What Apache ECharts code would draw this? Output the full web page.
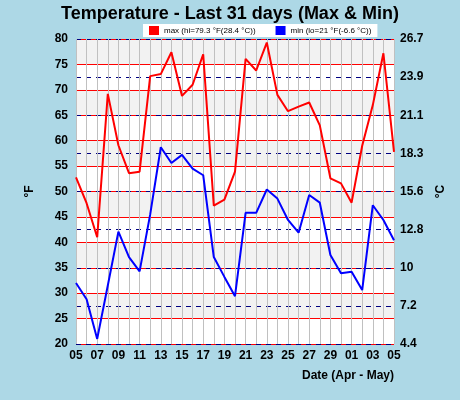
<!DOCTYPE html>
<html><head><meta charset="utf-8">
<script src="https://cdn.jsdelivr.net/npm/echarts@6/dist/echarts.min.js"></script>
<style>html,body{margin:0;padding:0;background:#ADD8E6;}#c{width:460px;height:400px;}</style>
</head><body><div id="c"></div>
<script>
const days = ['05','06','07','08','09','10','11','12','13','14','15','16','17','18','19','20','21','22','23','24','25','26','27','28','29','30','01','02','03','04','05'];
const maxF = [52.8,47.7,41,69.2,59.1,53.6,53.9,72.7,73.1,77.4,68.8,71,77,47.2,48.4,53.9,76.1,73.8,79.3,69,65.8,66.7,67.5,63,52.6,51.6,47.8,59,67,77.2,57.8];
const minF = [32,28.8,21,31.5,42.1,37.1,34.3,45.5,58.7,55.6,57.2,54.5,53.2,37.1,33.2,29.4,45.8,45.8,50.4,48.6,44.4,41.9,49.3,47.8,37.5,33.9,34.2,30.6,47.3,44.4,40.4];
const cLabels = ['4.4','7.2','10','12.8','15.6','18.3','21.1','23.9','26.7'];
const ff = 'Liberation Sans';
const chart = echarts.init(document.getElementById('c'));
chart.setOption({
  backgroundColor:'#ADD8E6',
  animation:false,
  title:{text:'Temperature - Last 31 days (Max & Min)',left:'center',top:0,textStyle:{fontFamily:ff,fontSize:18,fontWeight:'bold',color:'#000'}},
  legend:{top:24,left:143,itemWidth:10,itemHeight:9,itemGap:20,backgroundColor:'#fff',padding:[2,6,2,6],
    textStyle:{fontFamily:ff,fontSize:8,color:'#000'},
    data:[{name:'max (hi=79.3 °F(28.4 °C))',icon:'rect'},{name:'min (lo=21 °F(-6.6 °C))',icon:'rect'}]},
  grid:{left:76,right:66,top:39,bottom:56,show:true,backgroundColor:'#fff',borderWidth:0},
  xAxis:{type:'category',data:days,boundaryGap:false,
    name:'Date (Apr - May)',nameLocation:'end',nameGap:0,
    nameTextStyle:{fontFamily:ff,fontSize:12,fontWeight:'bold',color:'#000',align:'right',verticalAlign:'top',padding:[26,0,0,0]},
    axisLine:{show:false},axisTick:{show:false},
    axisLabel:{interval:1,fontFamily:ff,fontSize:12,fontWeight:'bold',color:'#000',margin:6},
    splitLine:{show:true,interval:0,lineStyle:{color:'#c0c0c0',width:1}}},
  yAxis:[
    {type:'value',min:20,max:80,interval:5,name:'°F',nameLocation:'middle',nameGap:40,
     nameTextStyle:{fontFamily:ff,fontSize:12,fontWeight:'bold',color:'#000'},
     axisLine:{show:false},axisTick:{show:false},
     axisLabel:{fontFamily:ff,fontSize:12,fontWeight:'bold',color:'#000',margin:8},
     splitLine:{lineStyle:{color:'#ff0000',width:1}},
     splitArea:{show:true,areaStyle:{color:['#ffffff','#f2f2f2']}}},
    {type:'value',min:0,max:8,interval:1,name:'°C',nameLocation:'middle',nameGap:32,
     nameTextStyle:{fontFamily:ff,fontSize:12,fontWeight:'bold',color:'#000'},
     axisLine:{show:false},axisTick:{show:false},
     axisLabel:{fontFamily:ff,fontSize:12,fontWeight:'bold',color:'#000',margin:6,formatter:(v)=>cLabels[Math.round(v)]},
     splitLine:{lineStyle:{color:'#000080',width:1,type:[5,5]}}}
  ],
  series:[
    {name:'max (hi=79.3 °F(28.4 °C))',type:'line',data:maxF,symbol:'none',color:'#ff0000',lineStyle:{width:2},z:5},
    {name:'min (lo=21 °F(-6.6 °C))',type:'line',data:minF,symbol:'none',color:'#0000ff',lineStyle:{width:2},z:5}
  ]
});
</script></body></html>
